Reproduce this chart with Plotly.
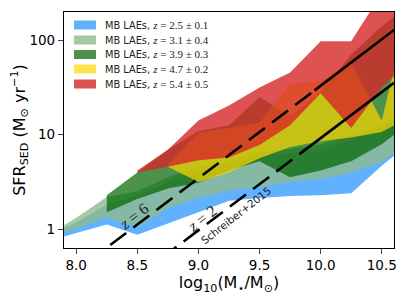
import plotly.graph_objects as go

# ---------------- data (log10 stellar mass, log10 SFR) ----------------
mass_b = [7.75, 8.0, 8.25, 8.5, 8.75, 9.0, 9.25, 9.5, 9.75, 10.0, 10.25, 10.5, 10.75]
z25_lo = [-0.135, -0.04, 0.05, -0.06, 0.06, 0.18, 0.30, 0.33, 0.35, 0.36, 0.38, 0.67, 0.94]
z25_hi = [-0.09, 0.07, 0.26, 0.36, 0.50, 0.62, 0.68, 0.78, 0.80, 0.85, 0.95, 1.05, 1.25]

mass_s = [7.75, 8.0, 8.25, 8.5, 8.75, 9.0, 9.25, 9.5, 9.75, 10.0, 10.25, 10.5, 10.75]
z31_lo = [-0.09, 0.0, 0.12, 0.02, 0.22, 0.33, 0.41, 0.45, 0.50, 0.53, 0.60, 0.71, 0.93]
z31_hi = [-0.08, 0.12, 0.34, 0.40, 0.55, 0.66, 0.72, 0.82, 0.85, 0.90, 1.00, 1.10, 1.30]

mass_g = [8.25, 8.5, 8.75, 9.0, 9.25, 9.5, 9.75, 10.0, 10.25, 10.5, 10.75]
z39_lo = [0.18, 0.32, 0.43, 0.49, 0.62, 0.72, 0.55, 0.62, 0.72, 0.90, 1.15]
z39_hi = [0.36, 0.60, 0.84, 1.04, 1.10, 1.40, 1.20, 1.45, 1.85, 2.15, 2.40]

mass_y = [8.75, 9.0, 9.25, 9.5, 9.75, 10.0, 10.25, 10.5, 10.75]
z47_lo = [0.66, 0.50, 0.60, 0.75, 0.87, 0.93, 0.97, 1.03, 1.20]
z47_hi = [0.68, 1.02, 1.07, 1.13, 1.54, 1.57, 1.76, 1.15, 2.50]

mass_r = [8.5, 8.75, 9.0, 9.25, 9.5, 9.75, 10.0, 10.25, 10.5, 10.75]
z54_lo = [0.60, 0.66, 0.73, 0.76, 0.89, 1.10, 1.44, 1.07, 1.50, 1.80]
z54_hi = [0.62, 0.84, 1.15, 1.31, 1.50, 1.66, 1.99, 1.99, 2.50, 2.80]

band_labels = ["2.5 ± 0.1", "3.1 ± 0.4", "3.9 ± 0.3", "4.7 ± 0.2", "5.4 ± 0.5"]
band_colors = ["rgba(30,144,255,0.7)", "rgba(143,188,143,0.8)", "rgba(0,100,0,0.7)",
               "rgba(255,215,0,0.7)", "rgba(214,39,40,0.8)"]

# Schreiber+2015 main sequence: dashed / solid parts
ms_z6_dash_m = [7.9, 9.95]
ms_z6_dash_s = [-0.54, 1.47]
ms_z6_solid_m = [9.95, 10.6]
ms_z6_solid_s = [1.47, 2.11]
ms_z2_dash_m = [8.5, 9.935]
ms_z2_dash_s = [-0.50, 0.90]
ms_z2_solid_m = [9.935, 10.6]
ms_z2_solid_s = [0.90, 1.55]

x_ticks = [8.0, 8.5, 9.0, 9.5, 10.0, 10.5]
y_ticks = [1, 10, 100]
y_ticklabels = ["1", "10", "100"]

# ---------------- figure ----------------
fig = go.Figure()
bands = [(mass_b, z25_lo, z25_hi), (mass_s, z31_lo, z31_hi), (mass_g, z39_lo, z39_hi),
         (mass_y, z47_lo, z47_hi), (mass_r, z54_lo, z54_hi)]
for (m, lo, hi), col in zip(bands, band_colors):
    xs = list(m) + list(m)[::-1]
    ys = [10 ** v for v in hi] + [10 ** v for v in lo[::-1]]
    fig.add_trace(go.Scatter(x=xs, y=ys, fill="toself", fillcolor=col, mode="none",
                             showlegend=False, hoverinfo="skip"))

for mm, ss, dash in [(ms_z6_dash_m, ms_z6_dash_s, "20px,9px"), (ms_z6_solid_m, ms_z6_solid_s, "solid"),
                     (ms_z2_dash_m, ms_z2_dash_s, "20px,9px"), (ms_z2_solid_m, ms_z2_solid_s, "solid")]:
    fig.add_trace(go.Scatter(x=mm, y=[10 ** v for v in ss], mode="lines",
                             line=dict(color="black", width=2.6, dash=dash),
                             showlegend=False, hoverinfo="skip"))

# page pixels of the plot area; the page body has an 8px margin
OFF = 8
L, R, T, B = 64, 394, 12, 248
W, H = 407 - OFF, 305 - OFF

def px(xp):
    return (xp - L) / (R - L)

def py(yp):
    return (B - yp) / (B - T)

shapes = []
annotations = []
rows = [25, 40, 54.5, 69, 84]
for yc, col, lab in zip(rows, band_colors, band_labels):
    shapes.append(dict(type="rect", xref="paper", yref="paper",
                       x0=px(74), x1=px(96), y0=py(yc + 4.5), y1=py(yc - 4.5),
                       fillcolor=col, line=dict(width=0)))
    annotations.append(dict(xref="paper", yref="paper", x=px(103), y=py(yc),
                            xanchor="left", yanchor="middle", showarrow=False,
                            text="MB LAEs, <span style='font-family:Liberation Serif;font-size:11px'><i>z</i> = " + lab + "</span>",
                            font=dict(family="DejaVu Sans", size=9.8, color="#222")))

annotations += [
    dict(x=8.47, y=0.13, xref="x", yref="y", text="<i>z</i> = 6", showarrow=False, textangle=-38,
         font=dict(family="Liberation Serif", size=16, color="#222")),
    dict(x=9.03, y=0.11, xref="x", yref="y", text="<i>z</i> = 2", showarrow=False, textangle=-38,
         font=dict(family="Liberation Serif", size=16, color="#222")),
    dict(x=9.31, y=0.15, xref="x", yref="y", text="Schreiber+2015", showarrow=False, textangle=-38,
         font=dict(family="DejaVu Sans", size=10.5, color="#222")),
]

fig.update_layout(
    width=W, height=H, margin=dict(l=L - OFF, r=407 - R, t=T - OFF, b=305 - B),
    paper_bgcolor="white", plot_bgcolor="white",
    font=dict(family="DejaVu Sans", color="black"),
    shapes=shapes, annotations=annotations, showlegend=False,
)
fig.update_xaxes(range=[7.9, 10.6], tickvals=x_ticks, ticktext=[f"{v:.1f}" for v in x_ticks],
                 ticks="outside", ticklen=5, tickwidth=1, showgrid=False, zeroline=False,
                 showline=True, linecolor="black", linewidth=1.2, mirror=True, automargin=False,
                 tickfont=dict(size=13.5),
                 title=dict(text="log<sub>10</sub>(M<sub>⋆</sub>/M<sub>⊙</sub>)", font=dict(size=16), standoff=2))
fig.update_yaxes(type="log", range=[-0.2, 2.3], tickvals=y_ticks, ticktext=y_ticklabels,
                 ticks="outside", ticklen=5, tickwidth=1, showgrid=False, zeroline=False,
                 showline=True, linecolor="black", linewidth=1.2, mirror=True, automargin=False,
                 tickfont=dict(size=13.5),
                 title=dict(text="SFR<sub>SED</sub> (M<sub>⊙</sub> yr<sup>−1</sup>)", font=dict(size=16), standoff=2))

fig.write_html("out.html")
